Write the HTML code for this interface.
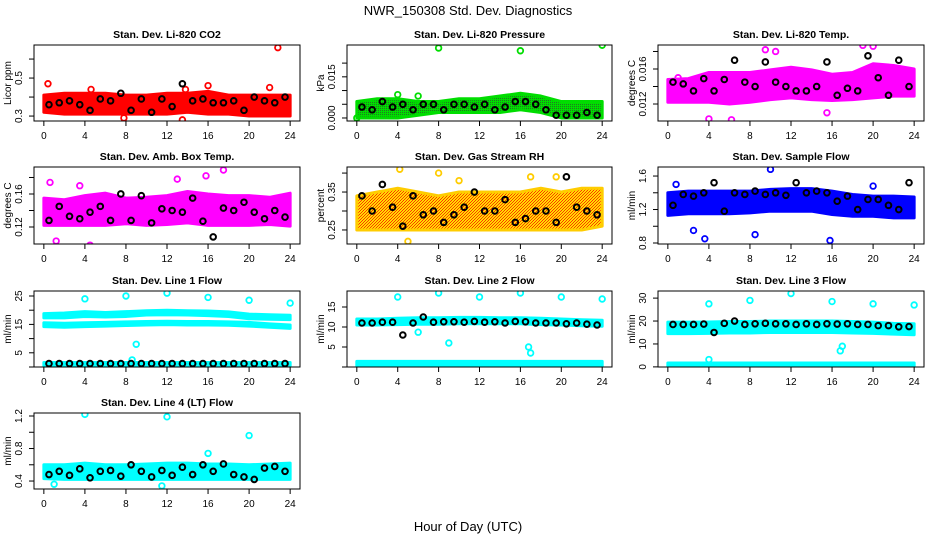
<!DOCTYPE html>
<html><head><meta charset="utf-8"><style>
body{margin:0;background:#fff}
svg text{font-family:"Liberation Sans",sans-serif}
</style></head><body>
<svg id="c" width="936" height="540" xmlns="http://www.w3.org/2000/svg">
<defs>
<pattern id="pg" width="2" height="2" patternUnits="userSpaceOnUse"><rect width="2" height="2" fill="#00dd00"/><rect width="1" height="1" fill="#227722"/></pattern>
<pattern id="py" width="3" height="3" patternUnits="userSpaceOnUse"><rect width="3" height="3" fill="#ffdd00"/><rect width="1" height="1" fill="#ff3300"/><rect x="2" y="1" width="1" height="1" fill="#ff3300"/><rect x="1" y="2" width="1" height="1" fill="#ff3300"/></pattern>
</defs>
<text x="468" y="15" text-anchor="middle" font-size="13">NWR_150308  Std. Dev. Diagnostics</text>
<text x="468" y="531" text-anchor="middle" font-size="13">Hour of Day (UTC)</text>
</svg>
<script>
const bandHours=[0,2,4,6,8,10,12,14,16,18,20,22,24];
const blkHours=[0.5,1.5,2.5,3.5,4.5,5.5,6.5,7.5,8.5,9.5,10.5,11.5,12.5,13.5,14.5,15.5,16.5,17.5,18.5,19.5,20.5,21.5,22.5,23.5];
const xTicks=[0,4,8,12,16,20,24];

const co2Lo=[0.32,0.31,0.31,0.31,0.31,0.31,0.31,0.32,0.31,0.31,0.30,0.30,0.30];
const co2Hi=[0.41,0.42,0.42,0.42,0.41,0.41,0.42,0.42,0.43,0.41,0.41,0.41,0.41];
const co2Blk=[0.36,0.37,0.38,0.36,0.33,0.39,0.38,0.42,0.33,0.39,0.32,0.39,0.35,0.47,0.38,0.39,0.37,0.37,0.38,0.33,0.40,0.38,0.37,0.40];
const co2OutH=[0.4,22.8,22,4.6,13.8,16,13.5,7.8];
const co2OutV=[0.47,0.66,0.45,0.44,0.44,0.46,0.28,0.29];

const presLo=[0.000,0.000,0.000,0.001,0.002,0.002,0.002,0.002,0.003,0.002,0.000,0.000,0.000];
const presHi=[0.006,0.007,0.007,0.006,0.006,0.007,0.007,0.008,0.009,0.008,0.006,0.006,0.006];
const presBlk=[0.004,0.003,0.006,0.004,0.005,0.003,0.005,0.005,0.003,0.005,0.005,0.004,0.005,0.003,0.004,0.006,0.006,0.005,0.003,0.001,0.001,0.001,0.002,0.001];
const presOutH=[8,16,24,4,6,0];
const presOutV=[0.0255,0.0245,0.0265,0.0085,0.008,0.0];

const tempLo=[0.0122,0.0122,0.0122,0.0120,0.0122,0.0125,0.0127,0.0125,0.0124,0.0125,0.0127,0.0129,0.0129];
const tempHi=[0.0148,0.0149,0.0156,0.0156,0.0156,0.0159,0.0162,0.0159,0.0154,0.0156,0.0166,0.0164,0.0160];
const tempBlk=[0.0145,0.0143,0.0135,0.0149,0.0135,0.0148,0.0170,0.0145,0.0140,0.0168,0.0145,0.0140,0.0135,0.0135,0.0140,0.0168,0.0130,0.0138,0.0135,0.0175,0.0150,0.0130,0.0170,0.0140];
const tempOutH=[4,6.2,19,20,10.5,9.5,1,15.5];
const tempOutV=[0.0103,0.0102,0.0187,0.0186,0.0180,0.0182,0.0150,0.0110];

const ambLo=[0.122,0.122,0.122,0.122,0.124,0.122,0.123,0.125,0.122,0.122,0.122,0.123,0.121];
const ambHi=[0.155,0.153,0.158,0.161,0.155,0.156,0.158,0.163,0.160,0.158,0.158,0.156,0.161];
const ambBlk=[0.128,0.145,0.133,0.130,0.138,0.145,0.128,0.160,0.128,0.158,0.125,0.142,0.140,0.138,0.155,0.127,0.108,0.143,0.140,0.150,0.138,0.130,0.140,0.132];
const ambOutH=[17.5,15.8,4.5,1.2,0.6,3.5,13];
const ambOutV=[0.189,0.182,0.098,0.103,0.174,0.170,0.178];

const rhLo=[0.25,0.25,0.25,0.25,0.25,0.25,0.25,0.25,0.25,0.25,0.25,0.25,0.26];
const rhHi=[0.34,0.35,0.36,0.35,0.34,0.35,0.35,0.35,0.35,0.36,0.35,0.36,0.36];
const rhBlk=[0.34,0.30,0.37,0.31,0.26,0.34,0.29,0.30,0.27,0.29,0.31,0.35,0.30,0.30,0.33,0.27,0.28,0.30,0.30,0.27,0.39,0.31,0.30,0.29];
const rhOutH=[4.2,8,10,17,5,19.5];
const rhOutV=[0.41,0.40,0.38,0.39,0.22,0.39];

const flowLo=[1.13,1.15,1.15,1.15,1.16,1.18,1.18,1.18,1.14,1.12,1.12,1.10,1.10];
const flowHi=[1.40,1.42,1.42,1.42,1.42,1.44,1.45,1.45,1.42,1.38,1.36,1.36,1.35];
const flowBlk=[1.25,1.38,1.36,1.40,1.52,1.18,1.40,1.38,1.42,1.38,1.40,1.37,1.52,1.40,1.42,1.40,1.30,1.36,1.20,1.32,1.32,1.25,1.20,1.52];
const flowOutH=[3.6,2.5,10,15.8,8.5,20,0.8];
const flowOutV=[0.85,0.95,1.68,0.83,0.90,1.48,1.50];

const l1aLo=[17.3,17.3,17.8,17.6,17.8,18.3,18.4,18.3,18.1,17.8,17.0,16.8,16.7];
const l1aHi=[18.8,19,19.5,19.2,19.5,19.8,20,19.8,19.7,19.4,18.6,18.4,18.2];
const l1bLo=[14.2,14.0,14.2,14.4,14.6,14.8,14.9,14.8,14.8,14.7,14.4,14.0,13.6];
const l1bHi=[15.6,15.4,15.6,15.7,15.9,16.0,16.1,16.0,16.0,15.9,15.7,15.2,14.8];
const l1cLo=[0.5,0.5,0.5,0.5,0.5,0.5,0.5,0.5,0.5,0.5,0.5,0.5,0.5];
const l1cHi=[1.6,1.6,1.6,1.6,1.6,1.6,1.6,1.6,1.6,1.6,1.6,1.6,1.6];
const l1Blk=[1.2,1.2,1.2,1.2,1.2,1.2,1.2,1.2,1.2,1.2,1.2,1.2,1.2,1.2,1.2,1.2,1.2,1.2,1.2,1.2,1.2,1.2,1.2,1.2];
const l1OutH=[4,8,12,16,20,24,9,8.6];
const l1OutV=[24,25,26,24.5,23.5,22.5,8,2.5];

const l2aLo=[10.5,10.5,10.6,10.7,10.7,10.8,10.8,10.8,10.8,10.6,10.5,10.3,10.2];
const l2aHi=[12,12,12.2,12.3,12.3,12.4,12.4,12.3,12.3,12.2,12,11.8,11.7];
const l2bLo=[0.3,0.3,0.3,0.3,0.3,0.3,0.3,0.3,0.3,0.3,0.3,0.3,0.3];
const l2bHi=[1.4,1.4,1.4,1.4,1.4,1.4,1.4,1.4,1.4,1.4,1.4,1.4,1.4];
const l2Blk=[11,11,11.2,11.2,8,11,12.5,11.2,11.3,11.3,11.2,11.4,11.2,11.3,11,11.4,11.3,11,11,11,10.8,11,10.7,10.5];
const l2OutH=[4,8,12,16,20,24,6,9,16.8,17];
const l2OutV=[17.5,18.5,17.5,18.5,17.5,17,8.7,6,5,3.5];

const l3aLo=[14.5,14.5,14.6,14.8,14.8,15,15,15,15,14.8,14.6,14.3,14];
const l3aHi=[19.5,19.5,19.6,19.8,19.8,20,20,20,20,19.8,19.5,19,18.8];
const l3bLo=[0.4,0.4,0.4,0.4,0.4,0.4,0.4,0.4,0.4,0.4,0.4,0.4,0.4];
const l3bHi=[1.7,1.7,1.7,1.7,1.7,1.7,1.7,1.7,1.7,1.7,1.7,1.7,1.7];
const l3Blk=[18.5,18.5,18.5,18.7,15,19,20,18.5,18.8,19,18.8,18.8,18.5,18.8,18.5,18.8,18.7,18.8,18.5,18.5,18,18,17.5,17.6];
const l3OutH=[4,8,12,16,20,24,17,16.8,4];
const l3OutV=[27.5,29,32,28.5,27.5,27,9,7,3.2];

const l4Lo=[0.43,0.42,0.42,0.42,0.42,0.42,0.42,0.42,0.42,0.42,0.42,0.42,0.42];
const l4Hi=[0.60,0.60,0.62,0.60,0.60,0.61,0.62,0.62,0.61,0.61,0.60,0.61,0.62];
const l4Blk=[0.48,0.52,0.47,0.55,0.44,0.52,0.53,0.46,0.60,0.52,0.45,0.53,0.47,0.57,0.48,0.60,0.52,0.61,0.48,0.45,0.42,0.56,0.58,0.52];
const l4OutH=[4,12,20,16,1,11.5];
const l4OutV=[1.22,1.19,0.96,0.74,0.36,0.34];

const NS='http://www.w3.org/2000/svg';
const svg=document.getElementById('c');
function mk(tag,attrs,parent){const e=document.createElementNS(NS,tag);for(const k in attrs)e.setAttribute(k,attrs[k]);(parent||svg).appendChild(e);return e;}

const cols=[[34,300],[347,612],[658,924]];
const rows=[[45,121],[167,244],[291,367],[413,489]];

const panels=[
 {id:'co2',title:'Stan. Dev. Li-820 CO2',ylab:'Licor ppm',c:0,r:0,yd:[0.274,0.674],col:'#ff0000',fill:'#ff0000',bands:[[co2Lo,co2Hi]],blk:co2Blk,oh:co2OutH,ov:co2OutV,yt:[0.3,0.4,0.5,0.6],yl:['0.3','','0.5','']},
 {id:'pressure',title:'Stan. Dev. Li-820 Pressure',ylab:'kPa',c:1,r:0,yd:[-0.0011,0.0266],col:'#00dd00',fill:'url(#pg)',bands:[[presLo,presHi]],blk:presBlk,oh:presOutH,ov:presOutV,yt:[0,0.005,0.010,0.015,0.020],yl:['0.000','','','0.015','']},
 {id:'li820-temp',title:'Stan. Dev. Li-820 Temp.',ylab:'degrees C',c:2,r:0,yd:[0.01006,0.01874],col:'#ff00ff',fill:'#ff00ff',bands:[[tempLo,tempHi]],blk:tempBlk,oh:tempOutH,ov:tempOutV,yt:[0.012,0.014,0.016,0.018],yl:['0.012','','0.016','']},
 {id:'amb-box-temp',title:'Stan. Dev. Amb. Box Temp.',ylab:'degrees C',c:0,r:1,yd:[0.0994,0.1927],col:'#ff00ff',fill:'#ff00ff',bands:[[ambLo,ambHi]],blk:ambBlk,oh:ambOutH,ov:ambOutV,yt:[0.12,0.14,0.16,0.18],yl:['0.12','','0.16','']},
 {id:'gas-rh',title:'Stan. Dev. Gas Stream RH',ylab:'percent',c:1,r:1,yd:[0.213,0.416],col:'#ffcc00',fill:'url(#py)',bands:[[rhLo,rhHi]],blk:rhBlk,oh:rhOutH,ov:rhOutV,yt:[0.25,0.30,0.35,0.40],yl:['0.25','','0.35','']},
 {id:'sample-flow',title:'Stan. Dev. Sample Flow',ylab:'ml/min',c:2,r:1,yd:[0.788,1.708],col:'#0000ff',fill:'#0000ff',bands:[[flowLo,flowHi]],blk:flowBlk,oh:flowOutH,ov:flowOutV,yt:[0.8,1.0,1.2,1.4,1.6],yl:['0.8','','1.2','','1.6']},
 {id:'line1-flow',title:'Stan. Dev. Line 1 Flow',ylab:'ml/min',c:0,r:2,yd:[0,26.76],col:'#00ffff',fill:'#00ffff',bands:[[l1aLo,l1aHi],[l1bLo,l1bHi],[l1cLo,l1cHi]],blk:l1Blk,oh:l1OutH,ov:l1OutV,yt:[0,5,10,15,20,25],yl:['','5','','15','','25']},
 {id:'line2-flow',title:'Stan. Dev. Line 2 Flow',ylab:'ml/min',c:1,r:2,yd:[0,19],col:'#00ffff',fill:'#00ffff',bands:[[l2aLo,l2aHi],[l2bLo,l2bHi]],blk:l2Blk,oh:l2OutH,ov:l2OutV,yt:[0,5,10,15],yl:['','5','10','15']},
 {id:'line3-flow',title:'Stan. Dev. Line 3 Flow',ylab:'ml/min',c:2,r:2,yd:[-0.05,33.1],col:'#00ffff',fill:'#00ffff',bands:[[l3aLo,l3aHi],[l3bLo,l3bHi]],blk:l3Blk,oh:l3OutH,ov:l3OutV,yt:[0,10,20,30],yl:['0','10','20','30']},
 {id:'line4-flow',title:'Stan. Dev. Line 4 (LT) Flow',ylab:'ml/min',c:0,r:3,yd:[0.302,1.237],col:'#00ffff',fill:'#00ffff',bands:[[l4Lo,l4Hi]],blk:l4Blk,oh:l4OutH,ov:l4OutV,yt:[0.4,0.6,0.8,1.0,1.2],yl:['0.4','','0.8','','1.2']}
];

panels.forEach(p=>{
  const [x0,x1]=cols[p.c],[y0,y1]=rows[p.r];
  const g=mk('g',{});
  
  
  const sx=h=>x0+(h+0.96)/25.92*(x1-x0);
  const sy=v=>y1-(v-p.yd[0])/(p.yd[1]-p.yd[0])*(y1-y0);
  const cl='clip-'+p.id;
  const cp=mk('clipPath',{id:cl},g);mk('rect',{x:x0,y:y0,width:x1-x0,height:y1-y0},cp);
  const pg=mk('g',{'clip-path':'url(#'+cl+')'},g);
  p.bands.forEach((b,bi)=>{
    let pts=bandHours.map((h,i)=>sx(h)+','+sy(b[1][i]));
    pts=pts.concat(bandHours.map((h,i)=>sx(h)+','+sy(b[0][i])).reverse());
    const poly=mk('polygon',{points:pts.join(' '),fill:p.fill,stroke:p.col,'stroke-width':3,'stroke-linejoin':'round'},pg);
    
    
  });
  p.oh.forEach((h,i)=>{
    const c=mk('circle',{cx:sx(h),cy:sy(p.ov[i]),r:2.8,fill:'none',stroke:p.col,'stroke-width':1.8},pg);
    
    
  });
  p.blk.forEach((v,i)=>{
    const c=mk('circle',{cx:sx(blkHours[i]),cy:sy(v),r:2.8,fill:'none',stroke:'#000','stroke-width':2},pg);
    
    
  });
  const box=mk('rect',{x:x0,y:y0,width:x1-x0,height:y1-y0,fill:'none',stroke:'#000','stroke-width':1},g);
  
  
  const t=mk('text',{x:(x0+x1)/2,y:y0-7,'text-anchor':'middle','font-size':10.5,'font-weight':'bold'},g);
  t.textContent=p.title;
  
  
  xTicks.forEach(h=>{
    mk('line',{x1:sx(h),x2:sx(h),y1:y1,y2:y1+5,stroke:'#000'},g);
    const tx=mk('text',{x:sx(h),y:y1+18,'text-anchor':'middle','font-size':10},g);
    tx.textContent=h;
    
    
  });
  mk('line',{x1:sx(0),x2:sx(24),y1:y1,y2:y1,stroke:'#000'},g);
  p.yt.forEach((v,i)=>{
    mk('line',{x1:x0-5,x2:x0,y1:sy(v),y2:sy(v),stroke:'#000'},g);
    if(p.yl[i]){
      const ty=mk('text',{x:x0-12,y:sy(v),'text-anchor':'middle','font-size':10,transform:'rotate(-90 '+(x0-12)+' '+sy(v)+')'},g);
      ty.textContent=p.yl[i];
      
      
    }
  });
  const yc=(y0+y1)/2, yx=x0-23;
  const yl=mk('text',{x:yx,y:yc,'text-anchor':'middle','font-size':10,transform:'rotate(-90 '+yx+' '+yc+')'},g);
  yl.textContent=p.ylab;
  
  
});
</script>
</body></html>
